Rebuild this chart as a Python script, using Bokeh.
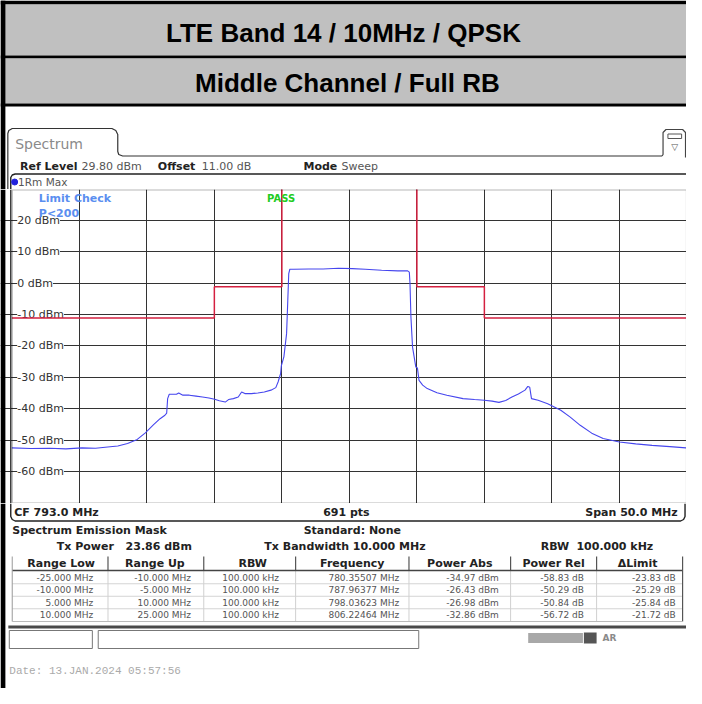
from bokeh.plotting import figure
from bokeh.layouts import column
from bokeh.models import Range1d, FixedTicker, Grid, LabelSet, ColumnDataSource, BoxAnnotation
from bokeh.core.properties import value
from bokeh.embed import file_html
from bokeh.resources import INLINE

# ---------------- data ----------------
title_line1 = "LTE Band 14 / 10MHz / QPSK"
title_line2 = "Middle Channel / Full RB"

center_freq_mhz = 793.0
span_mhz = 50.0
ref_level_dbm = 29.80
offset_db = 11.00
n_points = 691

y_tick_values = [20, 10, 0, -10, -20, -30, -40, -50, -60]
y_tick_labels = ["20 dBm", "10 dBm", "0 dBm", "-10 dBm", "-20 dBm",
                 "-30 dBm", "-40 dBm", "-50 dBm", "-60 dBm"]

trace_freq = [768.0, 769.4, 770.8, 772.0, 773.2, 774.2, 775.1, 775.85, 776.57, 777.29,
              777.89, 778.50, 778.98, 779.34, 779.47, 779.54, 779.66, 780.19, 780.36, 780.67,
              781.15, 781.64, 782.12, 782.60, 783.02, 783.37, 783.81, 784.05, 784.41, 784.77,
              785.02, 785.26, 785.74, 786.22, 786.70, 787.19, 787.55, 787.72, 787.91, 787.96,
              788.15, 788.35, 788.44, 788.51, 788.59, 788.88, 790.0, 791.05, 792.2, 793.22,
              794.18, 795.39, 796.60, 797.32, 797.44, 797.49, 797.56, 797.68, 797.92, 798.04,
              798.16, 798.43, 798.77, 799.49, 800.22, 801.42, 802.27, 802.99, 803.57, 804.08,
              804.58, 805.04, 805.52, 806.01, 806.22, 806.36, 806.49, 806.98, 807.69, 808.66,
              809.36, 810.10, 810.95, 811.80, 813.00, 814.21, 815.42, 816.74, 818.0]
trace_dbm = [-52.5, -52.7, -52.6, -52.8, -52.5, -52.6, -52.2, -51.9, -51.1, -49.8,
             -47.7, -45.1, -43.2, -42.1, -41.4, -36.8, -35.4, -35.4, -35.0, -35.7,
             -35.7, -36.0, -36.3, -36.6, -37.0, -37.5, -37.9, -37.1, -36.8, -36.3,
             -34.7, -35.2, -35.2, -35.0, -34.7, -34.1, -33.3, -31.5, -28.8, -26.4,
             -23.5, -16.1, -5.5, 3.0, 4.4, 4.4, 4.5, 4.5, 4.7, 4.6,
             4.4, 4.1, 3.9, 3.9, 3.5, 0.0, -10.8, -20.4, -26.7, -27.0,
             -31.0, -32.5, -33.6, -34.9, -35.7, -36.8, -37.1, -37.3, -37.6, -38.0,
             -37.4, -36.3, -35.3, -34.1, -32.9, -33.2, -36.8, -37.3, -38.4, -40.5,
             -42.7, -45.3, -47.8, -49.5, -50.6, -51.2, -51.7, -52.1, -52.5]

tx_power_dbm = 23.86
tx_bandwidth_mhz = 10.0
rbw_khz = 100.0

range_low_mhz = [-25.0, -10.0, 5.0, 10.0]
range_up_mhz = [-10.0, -5.0, 10.0, 25.0]
range_rbw_khz = [100.0, 100.0, 100.0, 100.0]
peak_freq_mhz = [780.35507, 787.96377, 798.03623, 806.22464]
power_abs_dbm = [-34.97, -26.43, -26.98, -32.86]
power_rel_db = [-58.83, -50.29, -50.84, -56.72]
delta_limit_db = [-23.83, -25.29, -25.84, -21.72]

date_text = "Date: 13.JAN.2024  05:57:56"

# ---------------- layout constants ----------------
W, H = 686, 688          # pixel size of the whole page content
REF_W = 702              # design width (scaled to W)
Y1, Y2, Y3, Y4 = 0, 189, 503, 688
FONT = "DejaVu Sans"
GRID_LEFT = 11.6         # design x of the spectrum grid's left edge
GRID_RIGHT = 702.4


def canvas(top, bottom):
    p = figure(width=W, height=bottom - top, x_range=Range1d(0, REF_W),
               y_range=Range1d(bottom, top), output_backend="svg", toolbar_location=None,
               x_axis_type=None, y_axis_type=None, min_border=0, outline_line_color=None,
               background_fill_color="white", border_fill_color="white")
    return p


def txt(p, x, y, s, size=11, bold=False, color="#222222", align="left", font=FONT):
    p.text(x=[x], y=[y], text=[s], text_font=value(font), text_font_size=f"{size}px",
           text_font_style="bold" if bold else "normal", text_color=color,
           text_align=align, text_baseline="middle")


def rect(p, l, r, t, b, fill="black", line=None, lw=1):
    p.quad(left=[l], right=[r], top=[t], bottom=[b], fill_color=fill, line_color=line, line_width=lw)


# ---------------- figure 1: header ----------------
p1 = canvas(Y1, Y2)
rect(p1, 0, REF_W, 0, 4, fill="black")
rect(p1, 0, REF_W, 4, 55, fill="#c0c0c0")
rect(p1, 0, REF_W, 55, 58, fill="black")
rect(p1, 0, REF_W, 58, 103, fill="#c0c0c0")
rect(p1, 0, REF_W, 103, 106, fill="black")
rect(p1, 0, 5, 0, Y2, fill="black")
txt(p1, 351, 32, title_line1, size=26, bold=True, color="black", align="center", font="Liberation Sans")
txt(p1, 355, 82, title_line2, size=26, bold=True, color="black", align="center", font="Liberation Sans")

# tab outline
p1.line(x=[7.5, 7.5, 8.5, 12, 114, 118, 120, 120, 121, 125, 677],
        y=[Y2, 133, 130, 128, 128, 130, 134, 151, 154, 155.5, 155.5], line_color="#333333", line_width=1.2)
txt(p1, 15, 143, "Spectrum", size=14, color="#8a8a8a")
# icon box
p1.line(x=[677, 678, 678, 681, 698, 701, 701], y=[155.5, 154, 132, 129, 129, 132, 157],
        line_color="#444444", line_width=1.2)
rect(p1, 683, 697, 133.5, 138, fill="white", line="#555555", lw=1)
txt(p1, 690, 146, "\u25bd", size=9, color="#555555", align="center")

# ref level row
txt(p1, 20, 166, "Ref Level", bold=True)
txt(p1, 83, 166, f"{ref_level_dbm:.2f} dBm", color="#555555")
txt(p1, 161, 166, "Offset", bold=True)
txt(p1, 206, 166, f"{offset_db:.2f} dB", color="#555555")
txt(p1, 310, 166, "Mode", bold=True)
txt(p1, 349, 166, "Sweep", color="#555555")

# plot box top
p1.line(x=[10.5, 10.5, 12, 15, REF_W], y=[Y2, 177, 174.5, 173.5, 173.5], line_color="#222222", line_width=1.4)
p1.scatter(x=[14.5], y=[181.5], size=6, color="#2222dd")
txt(p1, 18, 181.5, "1Rm Max", size=10.5, color="#555555")

# ---------------- figure 2: spectrum ----------------
f_start = center_freq_mhz - span_mhz / 2
f_stop = center_freq_mhz + span_mhz / 2
ref_px_per_mhz = (GRID_RIGHT - GRID_LEFT) / span_mhz
x_lo = f_start - GRID_LEFT / ref_px_per_mhz
x_hi = f_start + (REF_W - GRID_LEFT) / ref_px_per_mhz
y_bottom = ref_level_dbm - 100.0

p2 = figure(width=W, height=Y3 - Y2,
            x_range=Range1d(x_lo, x_hi),
            y_range=Range1d(y_bottom, ref_level_dbm),
            output_backend="svg", toolbar_location=None, x_axis_type=None, y_axis_type=None,
            min_border=0, outline_line_color=None, background_fill_color="white",
            border_fill_color="white")

x_grid_ticks = [f_start + span_mhz / 10 * k for k in range(1, 10)]
p2.add_layout(Grid(dimension=0, ticker=FixedTicker(ticks=x_grid_ticks),
                   grid_line_color="#333333", grid_line_width=1))
p2.add_layout(Grid(dimension=1, ticker=FixedTicker(ticks=y_tick_values),
                   grid_line_color="#333333", grid_line_width=1))

lab_src = ColumnDataSource(dict(x=[f_start + 0.4] * len(y_tick_values), y=y_tick_values, text=y_tick_labels))
p2.add_layout(LabelSet(x="x", y="y", text="text", source=lab_src, level="underlay",
                       text_font=value(FONT), text_font_size="11px", text_color="#333333",
                       text_baseline="middle", background_fill_color="white"))

# page border, panel line and grid box
p2.add_layout(BoxAnnotation(right=x_lo + 5 / ref_px_per_mhz,
                            fill_color="black", fill_alpha=1, line_alpha=0))
p2.add_layout(BoxAnnotation(left=x_lo + 9.8 / ref_px_per_mhz, right=x_lo + 11.0 / ref_px_per_mhz,
                            fill_color="#333333", fill_alpha=1, line_alpha=0))
p2.add_layout(BoxAnnotation(left=f_start, right=f_stop, bottom=y_bottom, top=ref_level_dbm,
                            fill_alpha=0, line_color="#111111", line_width=2))

# limit line from the spectrum emission mask table
limit_dbm = [pa - dl for pa, dl in zip(power_abs_dbm, delta_limit_db)]
off_top = ref_level_dbm + 10
left_x = [center_freq_mhz + range_low_mhz[0], center_freq_mhz + range_up_mhz[0],
          center_freq_mhz + range_low_mhz[1], center_freq_mhz + range_up_mhz[1],
          center_freq_mhz + range_up_mhz[1]]
left_y = [limit_dbm[0], limit_dbm[0], limit_dbm[1], limit_dbm[1], off_top]
right_x = [center_freq_mhz + range_low_mhz[2], center_freq_mhz + range_low_mhz[2],
           center_freq_mhz + range_up_mhz[2], center_freq_mhz + range_low_mhz[3],
           center_freq_mhz + range_up_mhz[3]]
right_y = [off_top, limit_dbm[2], limit_dbm[2], limit_dbm[3], limit_dbm[3]]
p2.multi_line(xs=[left_x, right_x], ys=[left_y, right_y], line_color="#d42040", line_width=1.5)

p2.line(trace_freq, trace_dbm, line_color="#4646ee", line_width=1.1)

p2.text(x=[f_start + 2.0], y=[ref_level_dbm - 2.9], text=["Limit Check"], text_font=value(FONT),
        text_font_size="11px", text_font_style="bold", text_color="#5a8ef0", text_baseline="middle")
p2.text(x=[f_start + 2.0], y=[ref_level_dbm - 7.7], text=["P<200"], text_font=value(FONT),
        text_font_size="11px", text_font_style="bold", text_color="#5a8ef0", text_baseline="middle")
p2.text(x=[f_start + 18.9], y=[ref_level_dbm - 2.9], text=["PASS"], text_font=value(FONT),
        text_font_size="10px", text_font_style="bold", text_color="#22cc22", text_baseline="middle")

# ---------------- figure 3: table ----------------
p3 = canvas(Y3, Y4)
rect(p3, 0, 5, Y3, Y4, fill="black")
p3.line(x=[10.5, 10.5, 12, 15, 696, 699, 700.5, 700.5], y=[Y3, 516, 519, 520.5, 520.5, 519, 516, Y3],
        line_color="#222222", line_width=1.4)
txt(p3, 14, 512, f"CF {center_freq_mhz:.1f} MHz", bold=True)
txt(p3, 354, 512, f"{n_points} pts", bold=True, align="center")
txt(p3, 693, 512, f"Span {span_mhz:.1f} MHz", bold=True, align="right")

txt(p3, 12, 530, "Spectrum Emission Mask", bold=True)
txt(p3, 360, 530, "Standard: None", bold=True, align="center")
txt(p3, 116, 546, "Tx Power", bold=True, align="right")
txt(p3, 128, 546, f"{tx_power_dbm:.2f} dBm", bold=True)
txt(p3, 270, 546, "Tx Bandwidth", bold=True)
txt(p3, 435, 546, f"{tx_bandwidth_mhz:.3f} MHz", bold=True, align="right")
txt(p3, 582, 546, "RBW", bold=True, align="right")
txt(p3, 668, 546, f"{rbw_khz:.3f} kHz", bold=True, align="right")

col_sep = [110, 208, 302, 418, 522, 610]
headers = ["Range Low", "Range Up", "RBW", "Frequency", "Power Abs", "Power Rel", "\u0394Limit"]
head_cx = [62, 158, 258, 360, 470, 566, 652]
val_right = [95, 195, 285, 408, 510, 597, 691]
row_y = [577, 589.5, 602, 614.5]
tbl_l, tbl_r = 12, 698
tbl_top, head_bot, tbl_bot = 556, 570, 621

for i, (lo, up, rb, fq, pa, pr, dl) in enumerate(zip(range_low_mhz, range_up_mhz, range_rbw_khz,
                                                     peak_freq_mhz, power_abs_dbm, power_rel_db,
                                                     delta_limit_db)):
    cells = [f"{lo:.3f} MHz", f"{up:.3f} MHz", f"{rb:.3f} kHz", f"{fq:.5f} MHz",
             f"{pa:.2f} dBm", f"{pr:.2f} dB", f"{dl:.2f} dB"]
    for c, s in enumerate(cells):
        txt(p3, val_right[c], row_y[i], s, size=9, color="#555555", align="right")
    if i < 3:
        p3.line(x=[tbl_l, tbl_r], y=[row_y[i] + 6.25] * 2, line_color="#d4d4d4", line_width=1)

for xs in col_sep:
    p3.line(x=[xs, xs], y=[tbl_top, head_bot], line_color="#555555", line_width=1.2)
    p3.line(x=[xs, xs], y=[head_bot, tbl_bot], line_color="#d0d0d0", line_width=1)
for h, cx in zip(headers, head_cx):
    txt(p3, cx, 563, h, bold=True, align="center")
p3.line(x=[tbl_l, tbl_r], y=[head_bot, head_bot], line_color="#444444", line_width=1.4)
p3.line(x=[tbl_l, tbl_l], y=[tbl_top, tbl_bot], line_color="#999999", line_width=1)
p3.line(x=[tbl_r, tbl_r], y=[tbl_top, tbl_bot], line_color="#555555", line_width=1.2)
p3.line(x=[tbl_l, tbl_r], y=[tbl_bot, tbl_bot], line_color="#bbbbbb", line_width=1)
p3.line(x=[8, REF_W], y=[626.5, 626.5], line_color="#4a4a4a", line_width=3)

# status bar
rect(p3, 9, 94, 630, 648, fill="white", line="#777777", lw=1)
rect(p3, 100, 428, 630, 648, fill="white", line="#777777", lw=1)
rect(p3, 540, 596, 632.5, 642.5, fill="#a8a8a8")
rect(p3, 597, 610, 632, 643, fill="#555555")
txt(p3, 616, 637.5, "AR", size=9, bold=True, color="#8a8a8a")

txt(p3, 9, 670, date_text, size=11, color="#aaaaaa", font="Liberation Mono")

layout = column(p1, p2, p3)
open("out.html", "w").write(file_html(layout, INLINE))
